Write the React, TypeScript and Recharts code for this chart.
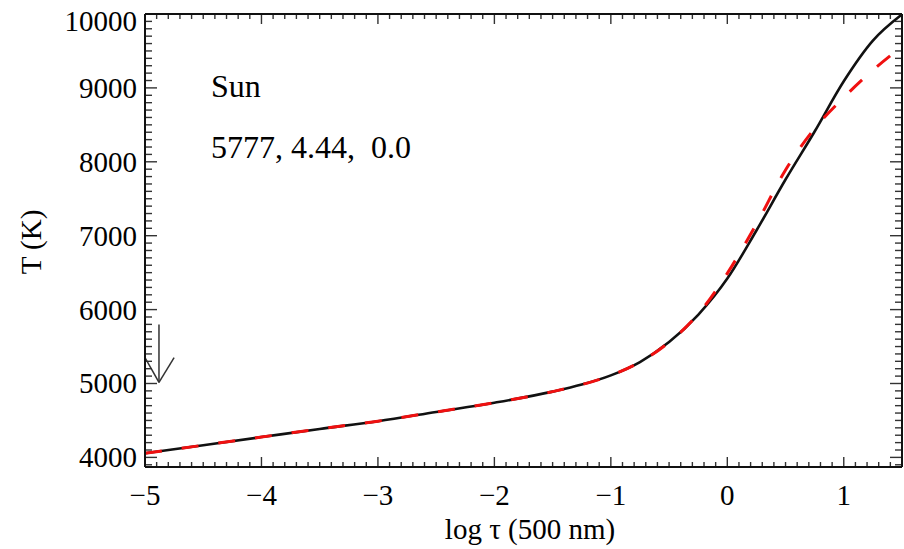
import React from "react";
import {
  LineChart,
  Line,
  XAxis,
  YAxis,
  ReferenceLine,
} from "recharts";

// log tau (500 nm) grid shared by both models
const LOG_TAU = [-5, -4.5, -4, -3.5, -3, -2.5, -2, -1.5, -1.25, -1, -0.75, -0.5, -0.25, 0, 0.25, 0.5, 0.75, 1, 1.25, 1.5];
// solid black model
const T_MODEL = [4055, 4165, 4275, 4385, 4490, 4615, 4740, 4890, 4985, 5110, 5290, 5560, 5930, 6420, 7070, 7760, 8410, 9090, 9640, 9995];
// dashed red model
const T_COMPARE = [4055, 4165, 4275, 4385, 4490, 4615, 4740, 4890, 4985, 5110, 5290, 5560, 5940, 6490, 7160, 7890, 8450, 8870, 9240, 9560];

const X_MAJOR = [-5, -4, -3, -2, -1, 0, 1];
const Y_MAJOR = [4000, 5000, 6000, 7000, 8000, 9000, 10000];

// arrow marker near the top of the model atmosphere
const ARROW_X = -4.88;
const ARROW_TOP = 5800;
const ARROW_TIP = 5015;
const ARROW_WING_Y = 5350;
const ARROW_WING_X = [-5.0, -4.75];

const X_DOMAIN: [number, number] = [-5, 1.5];
const Y_DOMAIN: [number, number] = [3870, 10000];

const W = 904;
const H = 549;
const MARGIN = { top: 13, right: 1, left: 0, bottom: 0 };
const PLOT_LEFT = 145;
const PLOT_BOTTOM = 467;

const FONT = "'Liberation Serif', 'Times New Roman', serif";
const FRAME = { stroke: "#111", strokeWidth: 2 };
const TICK_COLOR = "#333";

const xMinor: number[] = [];
for (let i = -50; i <= 15; i++) xMinor.push(i / 10);
const yMinor: number[] = [];
for (let v = 3900; v <= 10000; v += 100) yMinor.push(v);

const data = LOG_TAU.map((lt, i) => ({ lt, model: T_MODEL[i], compare: T_COMPARE[i] }));

const isMajorX = (v: number) => X_MAJOR.some((m) => Math.abs(m - v) < 1e-6);
const fmt = (v: number) => (v < 0 ? "\u2212" + Math.abs(v) : String(v));

const BottomLabel = (props: any) => {
  const { x, payload } = props;
  return (
    <text x={x} y={PLOT_BOTTOM + 38} textAnchor="middle" fontFamily={FONT} fontSize={29} fill="#000">
      {fmt(payload.value)}
    </text>
  );
};

const LeftLabel = (props: any) => {
  const { y, payload } = props;
  const dy = payload.value === 10000 ? 17 : 10;
  return (
    <text x={PLOT_LEFT - 8} y={y + dy} textAnchor="end" fontFamily={FONT} fontSize={29} fill="#000">
      {payload.value}
    </text>
  );
};

// inward tick marks at both ends of a full-height / full-width reference line
const xTickShape = (len: number) => (p: any) => {
  const top = Math.min(p.y1, p.y2);
  const bot = Math.max(p.y1, p.y2);
  return (
    <g>
      <line x1={p.x1} x2={p.x1} y1={top} y2={top + len} stroke={TICK_COLOR} strokeWidth={1.4} />
      <line x1={p.x1} x2={p.x1} y1={bot} y2={bot - len} stroke={TICK_COLOR} strokeWidth={1.4} />
    </g>
  );
};

const yTickShape = (len: number) => (p: any) => {
  const left = Math.min(p.x1, p.x2);
  const right = Math.max(p.x1, p.x2);
  return (
    <g>
      <line x1={left} x2={left + len} y1={p.y1} y2={p.y1} stroke={TICK_COLOR} strokeWidth={1.4} />
      <line x1={right} x2={right - len} y1={p.y1} y2={p.y1} stroke={TICK_COLOR} strokeWidth={1.4} />
    </g>
  );
};

const xMinorShape = xTickShape(5);
const xMajorShape = xTickShape(10);
const yMinorShape = yTickShape(7);
const yMajorShape = yTickShape(12);

export default function App() {
  return (
    <div style={{ position: "absolute", left: 0, top: 0, width: W, height: H, background: "#fff" }}>
      <LineChart width={W} height={H} data={data} margin={MARGIN}>
        <XAxis
          dataKey="lt"
          type="number"
          domain={X_DOMAIN}
          allowDataOverflow
          ticks={X_MAJOR}
          interval={0}
          height={82}
          tickLine={false}
          axisLine={FRAME}
          tick={<BottomLabel />}
        />
        <XAxis
          xAxisId="top"
          orientation="top"
          dataKey="lt"
          type="number"
          domain={X_DOMAIN}
          allowDataOverflow
          ticks={X_MAJOR}
          height={1}
          tickLine={false}
          tick={false}
          axisLine={FRAME}
        />
        <YAxis
          type="number"
          domain={Y_DOMAIN}
          allowDataOverflow
          ticks={Y_MAJOR}
          interval={0}
          width={145}
          tickLine={false}
          axisLine={FRAME}
          tick={<LeftLabel />}
        />
        <YAxis
          yAxisId="right"
          orientation="right"
          type="number"
          domain={Y_DOMAIN}
          allowDataOverflow
          ticks={Y_MAJOR}
          width={1}
          tickLine={false}
          tick={false}
          axisLine={FRAME}
        />
        {xMinor.map((v) => (
          <ReferenceLine key={"x" + v} x={v} ifOverflow="visible" shape={isMajorX(v) ? xMajorShape : xMinorShape} />
        ))}
        {yMinor.map((v) => (
          <ReferenceLine key={"y" + v} y={v} ifOverflow="visible" shape={Y_MAJOR.includes(v) ? yMajorShape : yMinorShape} />
        ))}
        <Line
          type="monotone"
          dataKey="model"
          stroke="#111"
          strokeWidth={2.6}
          dot={false}
          isAnimationActive={false}
        />
        <Line
          type="monotone"
          dataKey="compare"
          stroke="#f01010"
          strokeWidth={3}
          strokeDasharray="17 20"
          dot={false}
          isAnimationActive={false}
        />
        <ReferenceLine
          segment={[{ x: ARROW_X, y: ARROW_TOP }, { x: ARROW_X, y: ARROW_TIP }]}
          stroke="#333"
          strokeWidth={1.5}
          ifOverflow="visible"
        />
        {ARROW_WING_X.map((wx) => (
          <ReferenceLine
            key={wx}
            segment={[{ x: wx, y: ARROW_WING_Y }, { x: ARROW_X, y: ARROW_TIP }]}
            stroke="#333"
            strokeWidth={1.5}
            ifOverflow="visible"
          />
        ))}
      </LineChart>
      <svg width={W} height={H} style={{ position: "absolute", left: 0, top: 0, pointerEvents: "none" }}>
        <text x={211} y={97} fontFamily={FONT} fontSize={32} fill="#000">Sun</text>
        <text x={211} y={158} fontFamily={FONT} fontSize={32} fill="#000" style={{ whiteSpace: "pre" }}>
          {"5777, 4.44,  0.0"}
        </text>
        <text x={530} y={539} textAnchor="middle" fontFamily={FONT} fontSize={29} fill="#000">
          {"log \u03c4 (500 nm)"}
        </text>
        <text transform="translate(41,242) rotate(-90)" textAnchor="middle" fontFamily={FONT} fontSize={29} fill="#000">
          T (K)
        </text>
      </svg>
    </div>
  );
}
